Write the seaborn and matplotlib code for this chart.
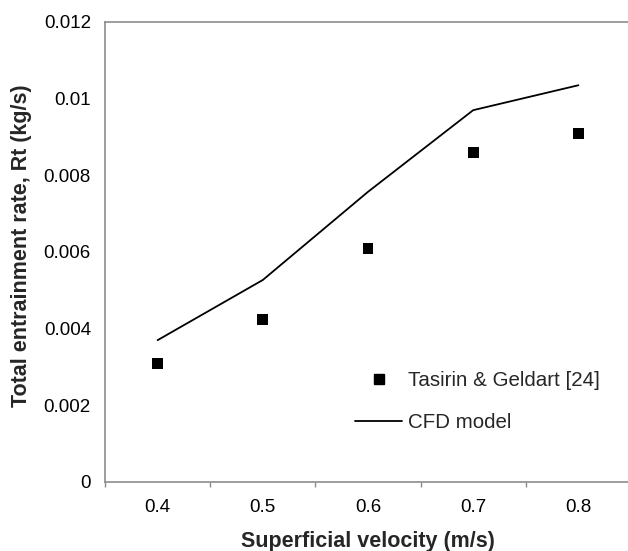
import matplotlib
matplotlib.use("Agg")
import matplotlib.pyplot as plt
import seaborn as sns
import pandas as pd
from matplotlib.lines import Line2D

velocity = [0.4, 0.5, 0.6, 0.7, 0.8]
experiment = [0.0031, 0.00425, 0.0061, 0.0086, 0.0091]
cfd_model = [0.0037, 0.00527, 0.00757, 0.0097, 0.01035]
y_ticks = [0, 0.002, 0.004, 0.006, 0.008, 0.01, 0.012]
y_tick_labels = ["0", "0.002", "0.004", "0.006", "0.008", "0.01", "0.012"]
x_tick_labels = ["0.4", "0.5", "0.6", "0.7", "0.8"]

sns.set_style("white")
plt.rcParams["font.family"] = ["Liberation Sans", "DejaVu Sans"]

df = pd.DataFrame({"v": velocity, "exp": experiment, "cfd": cfd_model})

W, H = 628, 551
fig = plt.figure(figsize=(W / 100, H / 100), dpi=100)
left, right, top, bottom = 105, 631, 22, 482
ax = fig.add_axes([left / W, 1 - bottom / H, (right - left) / W, (bottom - top) / H])

sns.lineplot(data=df, x="v", y="cfd", ax=ax, color="black", linewidth=1.3, legend=False)
sns.scatterplot(data=df, x="v", y="exp", ax=ax, marker="s", s=62, color="black",
                edgecolor="none", legend=False, zorder=3)

ax.set_xlim(0.35, 0.85)
ax.set_ylim(0, 0.012)
ax.set_xticks(velocity)
ax.set_xticklabels(x_tick_labels)
ax.set_xticks([0.35, 0.45, 0.55, 0.65, 0.75, 0.85], minor=True)
ax.set_yticks(y_ticks)
ax.set_yticklabels(y_tick_labels)

gray = "#8c8c8c"
for s in ["left", "bottom", "top"]:
    ax.spines[s].set_color(gray)
    ax.spines[s].set_linewidth(1.2)
ax.spines["right"].set_visible(False)

ax.tick_params(axis="x", which="major", length=0, pad=12.5, labelsize=13.5, colors="black")
ax.tick_params(axis="x", which="minor", length=3.6, width=1, color=gray, direction="out")
ax.tick_params(axis="y", which="major", length=3.6, width=1, color=gray, direction="out",
               pad=6.5, labelsize=13.5, labelcolor="black")
ax.tick_params(bottom=True, which="both")

ax.set_xlabel("Superficial velocity (m/s)", fontsize=15.5, fontweight="bold")
ax.set_ylabel("Total entrainment rate, Rt (kg/s)", fontsize=15.5, fontweight="bold")
ax.xaxis.set_label_coords((368 - left) / (right - left), -(542 - bottom) / (bottom - top))
ax.yaxis.set_label_coords(-(105 - 22) / (right - left), 1 - (246 - top) / (bottom - top))
ax.yaxis.label.set_va("center")
ax.xaxis.label.set_va("center")

handles = [
    Line2D([], [], marker="s", linestyle="none", color="black", markersize=7.5),
    Line2D([], [], color="black", linewidth=1.3),
]
ax.legend(handles, ["Tasirin & Geldart [24]", "CFD model"], loc="upper left",
          bbox_to_anchor=((355 - left) / (right - left), 1 - (371 - top) / (bottom - top)),
          frameon=False, fontsize=14.8, handlelength=2.3, handletextpad=0.3,
          labelspacing=1.12, borderaxespad=0, borderpad=0)

fig.savefig("out.png", dpi=100)
